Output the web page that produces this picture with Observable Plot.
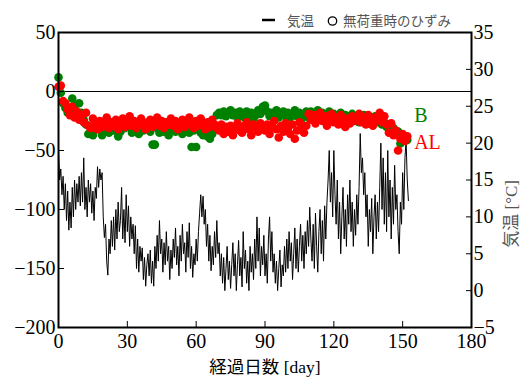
<!DOCTYPE html>
<html><head><meta charset="utf-8">
<script src="https://cdn.jsdelivr.net/npm/d3@7"></script>
<script src="https://cdn.jsdelivr.net/npm/@observablehq/plot@0.6"></script>
<style>
body{margin:0;background:#fff;}
#wrap{position:relative;width:525px;height:383px;overflow:hidden;}
#legend{position:absolute;left:0;top:0;}
</style></head><body>
<div id="wrap"><div id="chart"></div>
<svg id="legend" width="525" height="31" font-family="'Noto Sans CJK JP', sans-serif">
  <line x1="262" x2="275" y1="20" y2="20" stroke="#000" stroke-width="2.5"></line>
  <text x="287" y="26" font-size="13.5" fill="#555">気温</text>
  <circle cx="332.5" cy="21" r="4.2" fill="none" stroke="#000" stroke-width="1.3"></circle>
  <text x="343" y="26" font-size="13.5" fill="#555">無荷重時のひずみ</text>
</svg>
</div>
<script>
// temperature [°C], every half day starting at day 0
const tempStep = 0.5;
const temperature = [
19,15,16.5,13,15.5,11,14.5,9.5,13.5,8.2,12,8.5,14,10,15,11,14.5,12,15.5,11.5,
16,12,18,11,14,10,15,12,14.5,10.5,13.5,9.5,14,12.5,16.8,14,16.5,15,16,10,
7.2,9,4,2.1,7,5,9.5,6,10,5.5,11,7,12,8,9.5,14,7,11,6.5,13,
8,11.5,6,10,7,9,5,8.8,3,7,2.5,6,4,5.8,1.5,4.5,0.6,3.5,5,2,
5.5,1,4,0.6,6,3,7.5,4,9.5,5,7,2.5,6.5,3.5,8,4,6,1.5,5.5,3,
7,4.5,8.5,3.5,6,2,7.5,4,9,5,6.5,2.5,8,4.5,9.2,3,6,1.8,5,3.5,
7,4,8,10.5,13,10,12.8,9,11,6,9,4,7.5,2.7,6,3.5,8,4.5,9.5,5,
6.5,2,5,1,4.5,0,3,6,1.5,4,0.3,3.5,6.5,2,5,0,3.5,6.8,2,4.5,
0.5,8,3,5.5,1,4,0,6,2.5,5,1.5,7,3,10,4,8.5,2,6,3.5,7.5,
2,5,1,7,10,4,8,2.5,5,1,4,0,3,5.5,0.5,3.5,2,6,2.5,7,
3,8,4,6.5,1.5,5,8.5,3,7,2.5,6,9,4,7.5,3,8,5,9.5,6,11.3,
7,4,9,3,10.5,6,2.5,8,11,5,9.5,4,11.5,7,12,15,19,12,16,10,
19,13,9,15,7,12,5,10,14,7,11,6,13,9,15,8,12,6,11,7.5,
13,9,14,21.3,16,18,13,16,10,13,6,11,8,12.5,5,10,13,7,12,8,
14,20,11,18,9,16,8,19,10,15,7,14,9,17,11,13,8,5,12,9,
16,11,18,20.4,15,12.2
];
// strain without load, one value per day starting at day 0
const strainB = [
12,-1,-10,-14,-18,-15,-6,-12,-20,-10,
-18,-24,-28,-36,-30,-37,-28,-32,-26,-37,
-31,-27,-35,-29,-33,-26,-38,-34,-28,-31,
-27,-30,-35,-28,-32,-36,-29,-33,-27,-30,
-34,-45,-45,-31,-35,-28,-34,-30,-37,-32,
-29,-34,-31,-27,-36,-32,-30,-35,-47,-33,
-47,-31,-35,-37,-33,-38,-40,-36,-29,-20,
-18,-20,-17,-21,-19,-16,-20,-18,-22,-17,
-19,-22,-17,-21,-18,-23,-20,-16,-19,-13,
-12,-17,-21,-18,-20,-16,-22,-19,-17,-21,
-18,-22,-19,-16,-21,-18,-23,-20,-17,-22,
-17,-22,-19,-16,-21,-18,-23,-20,-17,-22,
-19,-24,-21,-18,-23,-20,-25,-22,-19,-24,
-21,-26,-23,-20,-25,-22,-27,-24,-21,-26,
-24,-28,-26,-30,-29,-33,-31,-36,-34,-44,
-38,-40,-41
];
const strainAL = [
4,5,-8,-10,-15,-20,-13,-22,-17,-24,
-20,-26,-18,-29,-31,-23,-28,-32,-25,-30,
-27,-22,-31,-26,-29,-24,-32,-27,-23,-30,
-26,-21,-29,-25,-31,-27,-23,-28,-32,-26,
-24,-30,-27,-22,-29,-25,-31,-26,-28,-23,
-29,-25,-32,-27,-24,-30,-26,-22,-28,-31,
-25,-29,-23,-27,-32,-26,-30,-24,-28,-31,
-33,-28,-36,-30,-34,-29,-37,-31,-27,-33,
-35,-29,-26,-32,-37,-28,-31,-34,-27,-30,
-33,-28,-36,-30,-25,-32,-39,-29,-34,-27,
-31,-36,-28,-40,-33,-26,-30,-35,-29,-19,
-24,-20,-27,-22,-18,-25,-21,-29,-23,-19,
-26,-22,-28,-20,-24,-30,-23,-27,-21,-25,
-22,-19,-26,-23,-28,-20,-25,-29,-22,-24,
-18,-26,-21,-28,-35,-27,-37,-33,-50,-40,
-36,-42,-38
];
const seriesNames = ["B", "AL"];
const seriesColors = ["#008000", "#ff0000"];
const labelDay = [155, 155];
const labelStrain = [-20, -43];
const xTicks = [0, 30, 60, 90, 120, 150, 180];
const leftTicks = [-200, -150, -100, -50, 0, 50];
const rightTicks = [-5, 0, 5, 10, 15, 20, 25, 30, 35];
const xLabel = "経過日数 [day]";
const rightLabel = "気温 [°C]";

// right axis (°C) mapped onto left axis (strain)
const toLeft = t => -200 + (t + 5) * 250 / 40;
const fromLeft = v => Math.round((v + 200) * 40 / 250 - 5);

const tempData = temperature.map((t, i) => ({day: i * tempStep, v: toLeft(t)}));
const bData = strainB.map((v, i) => ({day: i, v}));
const alData = strainAL.map((v, i) => ({day: i, v}));
const labels = seriesNames.map((name, i) => ({name, color: seriesColors[i], day: labelDay[i], v: labelStrain[i]}));

const chart = Plot.plot({
  width: 525, height: 383,
  marginLeft: 58, marginRight: 54, marginTop: 32, marginBottom: 56,
  style: {fontFamily: "'Liberation Serif', 'Noto Sans CJK JP', serif", fontSize: "20px", color: "#000", background: "#fff"},
  x: {domain: [0, 180]},
  y: {domain: [-200, 50]},
  color: {type: "identity"},
  marks: [
    Plot.ruleY([0], {stroke: "#000", strokeWidth: 1}),
    Plot.line(tempData, {x: "day", y: "v", stroke: "#000", strokeWidth: 1}),
    Plot.dot(bData, {x: "day", y: "v", r: 4.3, fill: seriesColors[0]}),
    Plot.dot(alData, {x: "day", y: "v", r: 4.3, fill: seriesColors[1]}),
    Plot.text(labels, {x: "day", y: "v", text: "name", fill: "color", textAnchor: "start", fontSize: 20}),
    Plot.axisX(xTicks, {tickSize: -6, tickPadding: 12, label: null, fontSize: 20}),
    Plot.axisY(leftTicks, {anchor: "left", tickSize: -6, tickPadding: 9, label: null, fontSize: 20}),
    Plot.axisY(rightTicks.map(toLeft), {anchor: "right", tickSize: -6, tickPadding: 8, tickFormat: v => d3.format("d")(fromLeft(v)), label: null, fontSize: 20}),
    Plot.frame({stroke: "#000", strokeWidth: 2}),
    Plot.text([xLabel], {frameAnchor: "bottom", dy: 45, fontSize: 17.5}),
    Plot.text([rightLabel], {frameAnchor: "right", dx: 40, rotate: -90, fontSize: 17, fill: "#555"})
  ]
});
document.getElementById("chart").append(chart);
</script>
</body></html>
